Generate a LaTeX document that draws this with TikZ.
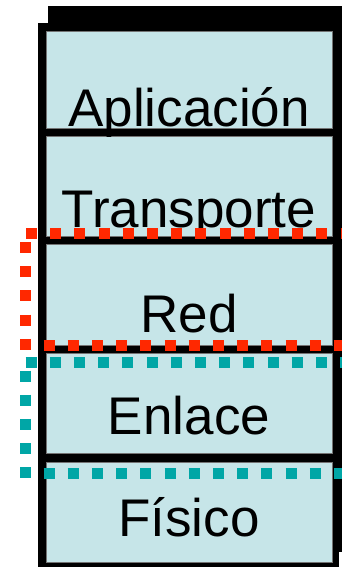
\documentclass[tikz,border=0pt]{standalone}
\usepackage{fontspec}
\setmainfont{Liberation Sans}
\usetikzlibrary{positioning}
\definecolor{capa}{RGB}{198,229,232}
\definecolor{rojo}{RGB}{255,40,0}
\definecolor{turq}{RGB}{0,166,166}
\tikzstyle{lS}=[rectangle,minimum width=286pt,inner sep=0pt,fill=capa,draw=black!55,line width=0.8pt]
\tikzstyle{tS}=[anchor=base,inner sep=0pt,font=\fontsize{53}{60}\selectfont]
\tikzstyle{dR}=[line width=11pt,draw=rojo,dash pattern=on 11pt off 13.2pt]
\tikzstyle{dT}=[line width=11pt,draw=turq,dash pattern=on 11pt off 13.2pt]

\begin{document}
\begin{tikzpicture}[x=1pt,y=-1pt]
                \useasboundingbox (0,0) rectangle (342,567);
                % marco negro de la pila
                \fill[black] (48,6) rectangle (350,40);
                \fill[black] (38,23) rectangle (339,567);
                \fill[black] (330,23) rectangle (350,552);
                % capas
                \draw (189,79.5) node[lS,minimum height=97pt] (apl) {};
                \draw (189,186) node[lS,minimum height=100pt] (tra) {};
                \draw (189,294.5) node[lS,minimum height=101pt] (red) {};
                \draw (189,403) node[lS,minimum height=100pt] (enl) {};
                \draw (189,512) node[lS,minimum height=100pt] (fis) {};
                \draw (189,127) node[tS] (tApl) {Aplicación};
                \draw (189,227) node[tS] (tTra) {Transporte};
                \draw (189,332) node[tS] (tRed) {Red};
                \draw (189,434) node[tS] (tEnl) {Enlace};
                \draw (189,536) node[tS] (tFis) {Físico};
                % marcos punteados
                \draw[dR] (26,233) -- (352,233);
                \draw[dR] (25,242) -- (25,351);
                \draw[dR] (43.5,345) -- (352,345);
                \draw[dT] (25.5,362) -- (352,362);
                \draw[dT] (25,370.5) -- (25,479);
                \draw[dT] (43.5,473) -- (352,473);
        \end{tikzpicture}
\end{document}
